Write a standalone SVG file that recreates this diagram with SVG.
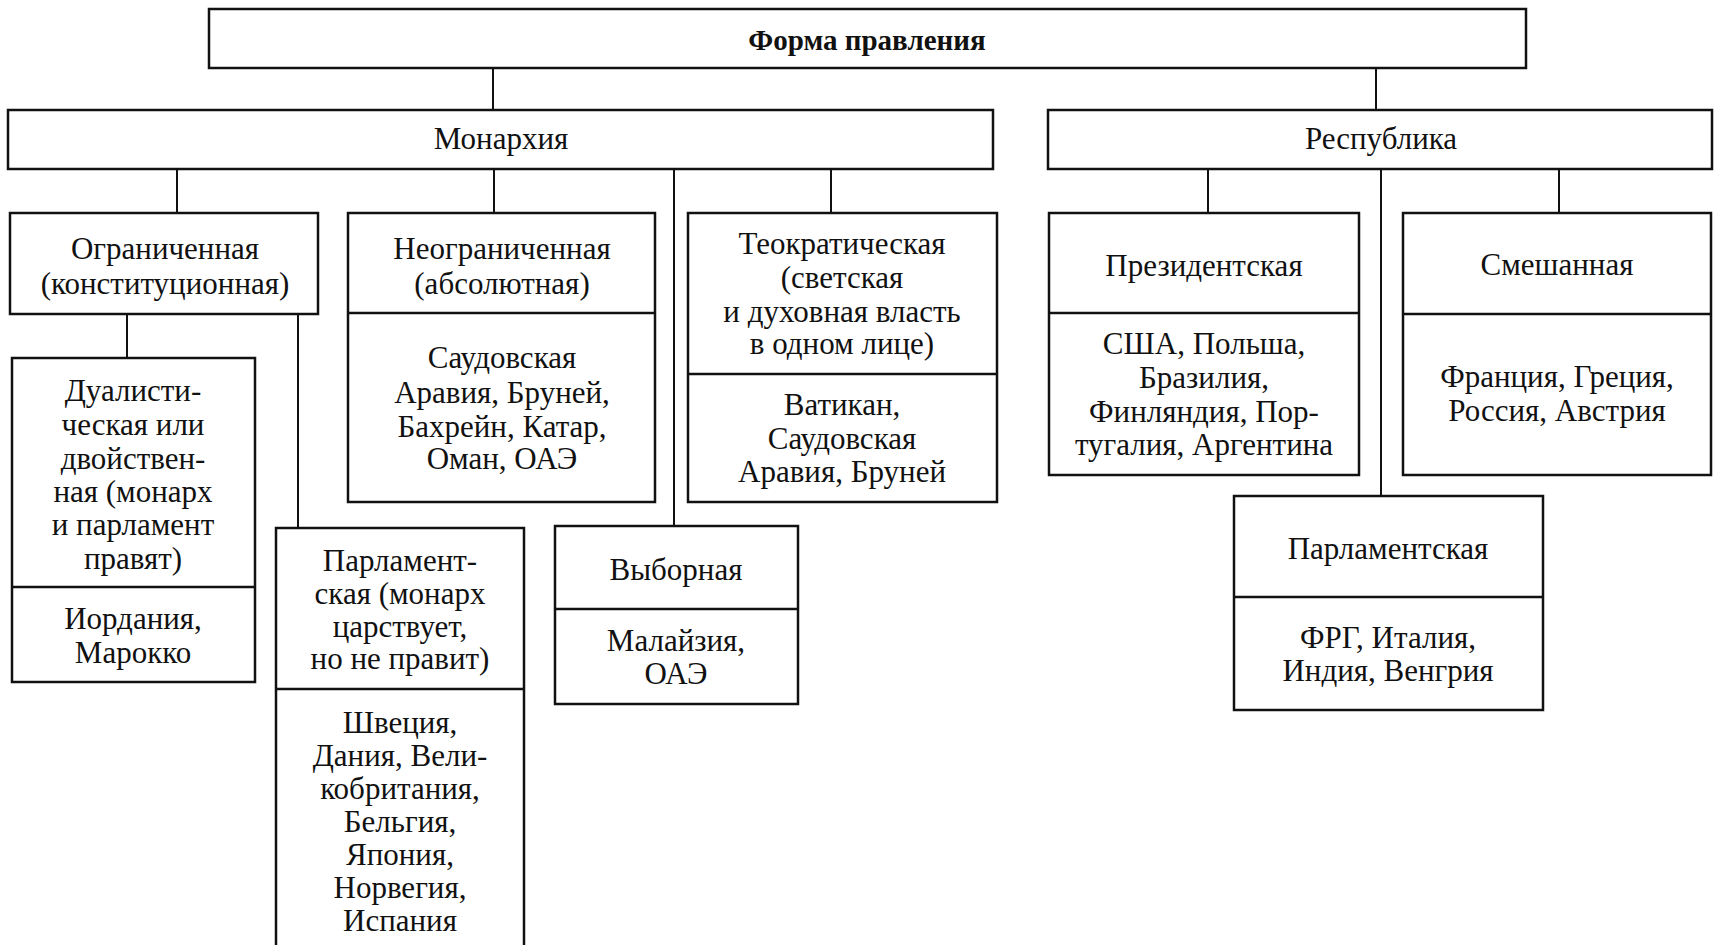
<svg xmlns="http://www.w3.org/2000/svg" width="1719" height="945" viewBox="0 0 1719 945">
<style>
.b{fill:#fff;stroke:#111;stroke-width:2.5}
.d{stroke:#111;stroke-width:2.5}
.c{stroke:#111;stroke-width:2;fill:none}
text{font-family:"Liberation Serif","Times New Roman",serif;font-size:31px;fill:#111;text-anchor:middle}
.t{font-weight:bold;font-size:29px}
</style>
<rect width="1719" height="945" fill="#fff"/>
<g id="connectors">
<line class="c" x1="493" y1="68" x2="493" y2="110"/>
<line class="c" x1="1376" y1="68" x2="1376" y2="110"/>
<line class="c" x1="177" y1="169" x2="177" y2="213"/>
<line class="c" x1="494" y1="169" x2="494" y2="213"/>
<line class="c" x1="674" y1="169" x2="674" y2="526"/>
<line class="c" x1="831" y1="169" x2="831" y2="213"/>
<line class="c" x1="127" y1="314" x2="127" y2="358"/>
<line class="c" x1="298" y1="314" x2="298" y2="528"/>
<line class="c" x1="1208" y1="169" x2="1208" y2="213"/>
<line class="c" x1="1381" y1="169" x2="1381" y2="496"/>
<line class="c" x1="1559" y1="169" x2="1559" y2="213"/>
</g>
<g id="forma">
<rect class="b" x="209" y="9" width="1317" height="59"/>
<text class="t" x="867" y="50">Форма правления</text>
</g>
<g id="monarchy">
<rect class="b" x="8" y="110" width="985" height="59"/>
<text x="501" y="149">Монархия</text>
</g>
<g id="republic">
<rect class="b" x="1048" y="110" width="664" height="59"/>
<text x="1381" y="149">Республика</text>
</g>
<g id="ogr">
<rect class="b" x="10" y="213" width="308" height="101"/>
<text x="165" y="259">Ограниченная</text>
<text x="165" y="294">(конституционная)</text>
</g>
<g id="neogr">
<rect class="b" x="348" y="213" width="307" height="289"/>
<line class="d" x1="348" y1="313" x2="655" y2="313"/>
<text x="502" y="259">Неограниченная</text>
<text x="502" y="294">(абсолютная)</text>
<text x="502" y="368">Саудовская</text>
<text x="502" y="403">Аравия, Бруней,</text>
<text x="502" y="437">Бахрейн, Катар,</text>
<text x="502" y="469">Оман, ОАЭ</text>
</g>
<g id="teocr">
<rect class="b" x="688" y="213" width="309" height="289"/>
<line class="d" x1="688" y1="374" x2="997" y2="374"/>
<text x="842" y="254">Теократическая</text>
<text x="842" y="288">(светская</text>
<text x="842" y="322">и духовная власть</text>
<text x="842" y="354">в одном лице)</text>
<text x="842" y="415">Ватикан,</text>
<text x="842" y="449">Саудовская</text>
<text x="842" y="482">Аравия, Бруней</text>
</g>
<g id="dual">
<rect class="b" x="12" y="358" width="243" height="324"/>
<line class="d" x1="12" y1="587" x2="255" y2="587"/>
<text x="133" y="401">Дуалисти-</text>
<text x="133" y="435">ческая или</text>
<text x="133" y="469">двойствен-</text>
<text x="133" y="502">ная (монарх</text>
<text x="133" y="535">и парламент</text>
<text x="133" y="569">правят)</text>
<text x="133" y="629">Иордания,</text>
<text x="133" y="663">Марокко</text>
</g>
<g id="parl-mon">
<rect class="b" x="276" y="528" width="248" height="430"/>
<line class="d" x1="276" y1="689" x2="524" y2="689"/>
<text x="400" y="571">Парламент-</text>
<text x="400" y="604">ская (монарх</text>
<text x="400" y="637">царствует,</text>
<text x="400" y="669">но не правит)</text>
<text x="400" y="733">Швеция,</text>
<text x="400" y="766">Дания, Вели-</text>
<text x="400" y="799">кобритания,</text>
<text x="400" y="832">Бельгия,</text>
<text x="400" y="865">Япония,</text>
<text x="400" y="898">Норвегия,</text>
<text x="400" y="931">Испания</text>
</g>
<g id="vyb">
<rect class="b" x="555" y="526" width="243" height="178"/>
<line class="d" x1="555" y1="609" x2="798" y2="609"/>
<text x="676" y="580">Выборная</text>
<text x="676" y="651">Малайзия,</text>
<text x="676" y="684">ОАЭ</text>
</g>
<g id="prez">
<rect class="b" x="1049" y="213" width="310" height="262"/>
<line class="d" x1="1049" y1="313" x2="1359" y2="313"/>
<text x="1204" y="276">Президентская</text>
<text x="1204" y="354">США, Польша,</text>
<text x="1204" y="388">Бразилия,</text>
<text x="1204" y="422">Финляндия, Пор-</text>
<text x="1204" y="455">тугалия, Аргентина</text>
</g>
<g id="smesh">
<rect class="b" x="1403" y="213" width="308" height="262"/>
<line class="d" x1="1403" y1="314" x2="1711" y2="314"/>
<text x="1557" y="275">Смешанная</text>
<text x="1557" y="387">Франция, Греция,</text>
<text x="1557" y="421">Россия, Австрия</text>
</g>
<g id="parl-rep">
<rect class="b" x="1234" y="496" width="309" height="214"/>
<line class="d" x1="1234" y1="597" x2="1543" y2="597"/>
<text x="1388" y="559">Парламентская</text>
<text x="1388" y="648">ФРГ, Италия,</text>
<text x="1388" y="681">Индия, Венгрия</text>
</g>
</svg>
